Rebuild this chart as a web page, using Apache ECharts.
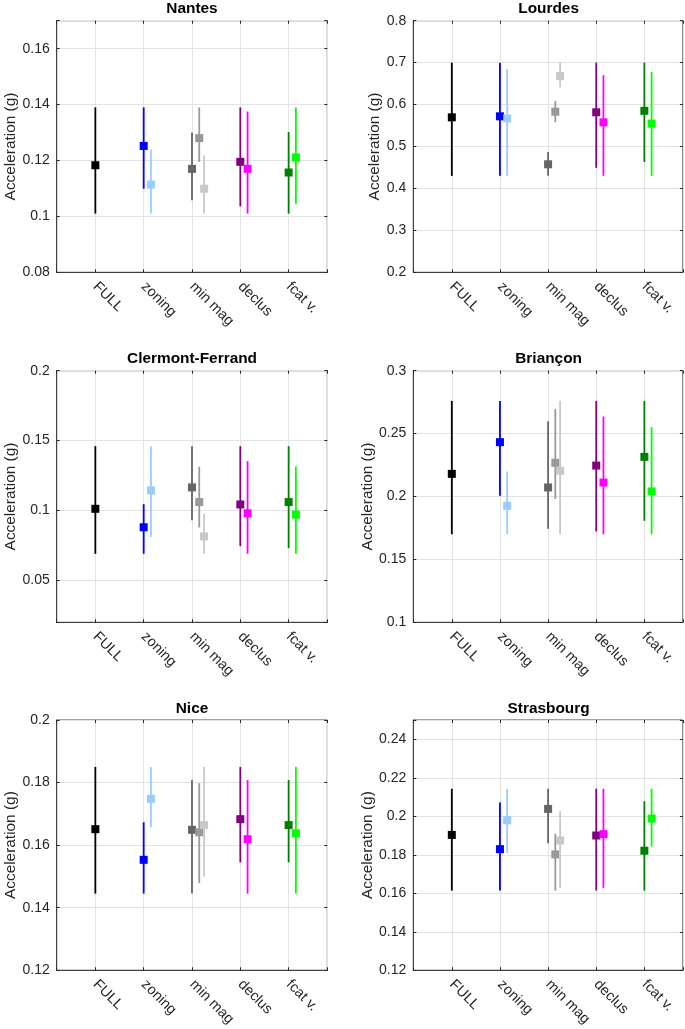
<!DOCTYPE html>
<html>
<head>
<meta charset="utf-8">
<script src="https://cdn.jsdelivr.net/npm/echarts@6/dist/echarts.min.js"></script>
<style>
html,body{margin:0;padding:0;background:#fff;}
#c{width:685px;height:1029px;}
</style>
</head>
<body>
<div id="c"></div>
<script>
// ---- data ----
const categories = ['FULL', 'zoning', 'min mag', 'declus', 'fcat v.'];
// variant order: FULL, zoning, zoning alt, min mag 1, min mag 2, min mag 3, declus, declus alt, fcat, fcat alt
const variantCategory = [1, 2, 2, 3, 3, 3, 4, 4, 5, 5];

const cities = ['Nantes', 'Lourdes', 'Clermont-Ferrand', 'Briançon', 'Nice', 'Strasbourg'];

const nantesVal = [0.1183, 0.1252, 0.1114, 0.1170, 0.1280, 0.1099, 0.1195, 0.1170, 0.1157, 0.1211];
const nantesLo  = [0.1010, 0.1099, 0.1010, 0.1058, 0.1195, 0.1010, 0.1036, 0.1010, 0.1010, 0.1045];
const nantesHi  = [0.1390, 0.1390, 0.1239, 0.1300, 0.1390, 0.1218, 0.1390, 0.1375, 0.1302, 0.1390];

const lourdesVal = [0.5696, 0.5720, 0.5670, 0.4576, 0.5830, 0.6680, 0.5816, 0.5577, 0.5850, 0.5545];
const lourdesLo  = [0.4300, 0.4300, 0.4300, 0.4300, 0.5580, 0.6410, 0.4490, 0.4300, 0.4630, 0.4300];
const lourdesHi  = [0.7000, 0.7000, 0.6840, 0.4870, 0.6086, 0.7000, 0.7000, 0.6700, 0.7000, 0.6780];

const clermontVal = [0.1012, 0.0880, 0.1143, 0.1165, 0.1060, 0.0814, 0.1043, 0.0980, 0.1060, 0.0971];
const clermontLo  = [0.0690, 0.0690, 0.0810, 0.0930, 0.0878, 0.0690, 0.0745, 0.0690, 0.0730, 0.0690];
const clermontHi  = [0.1460, 0.1045, 0.1460, 0.1460, 0.1313, 0.0976, 0.1460, 0.1353, 0.1460, 0.1315];

const brianconVal = [0.2180, 0.2432, 0.1926, 0.2072, 0.2268, 0.2204, 0.2246, 0.2111, 0.2315, 0.2040];
const brianconLo  = [0.1700, 0.2005, 0.1700, 0.1743, 0.1980, 0.1700, 0.1722, 0.1700, 0.1807, 0.1700];
const brianconHi  = [0.2760, 0.2760, 0.2199, 0.2599, 0.2694, 0.2760, 0.2760, 0.2636, 0.2760, 0.2551];

const niceVal = [0.1651, 0.1553, 0.1748, 0.1649, 0.1641, 0.1664, 0.1683, 0.1619, 0.1664, 0.1638];
const niceLo  = [0.1445, 0.1445, 0.1657, 0.1445, 0.1479, 0.1500, 0.1545, 0.1445, 0.1545, 0.1445];
const niceHi  = [0.1850, 0.1673, 0.1850, 0.1808, 0.1798, 0.1850, 0.1850, 0.1808, 0.1808, 0.1850];

const strasVal = [0.1903, 0.1829, 0.1979, 0.2038, 0.1802, 0.1874, 0.1900, 0.1907, 0.1821, 0.1988];
const strasLo  = [0.1614, 0.1614, 0.1810, 0.1860, 0.1614, 0.1628, 0.1614, 0.1628, 0.1614, 0.1843];
const strasHi  = [0.2143, 0.2071, 0.2143, 0.2143, 0.1909, 0.2026, 0.2143, 0.2143, 0.2078, 0.2143];

// y axis ranges and tick steps per panel
const yMin  = [0.08, 0.2, 0.02, 0.1, 0.12, 0.12];
const yMax  = [0.17, 0.8, 0.2, 0.3, 0.2, 0.25];
const yStep = [0.02, 0.1, 0.05, 0.05, 0.02, 0.02];

// ---- styles / layout ----
const panelData = [
  [nantesVal, nantesLo, nantesHi],
  [lourdesVal, lourdesLo, lourdesHi],
  [clermontVal, clermontLo, clermontHi],
  [brianconVal, brianconLo, brianconHi],
  [niceVal, niceLo, niceHi],
  [strasVal, strasLo, strasHi]
];
const variantColors = ['#000000', '#0000ff', '#99ccff', '#666666', '#999999', '#c8c8c8', '#800080', '#ff00ff', '#008000', '#00ff00'];
const variantOffset = [0, 0, 0.15, 0, 0.15, 0.25, 0, 0.15, 0, 0.15];

const FONT = '"Liberation Sans", Arial, Helvetica, sans-serif';
const TXT = '#262626';
const EDGE = '#404040';
const GRIDC = '#e3e3e3';

const colLeft = [56.7, 413.3];
const rowTop = [20.7, 370.7, 720];
const plotW = 270.6, plotH = 251.6;
const nameGaps = [37, 31, 34, 37, 38, 37];

const grids = [], xAxes = [], yAxes = [], series = [], graphics = [];

function fmtY(step) {
  return function (v) {
    const k = v / step;
    if (Math.abs(k - Math.round(k)) > 1e-6) return '';
    return String(parseFloat(v.toFixed(4)));
  };
}

for (let p = 0; p < 6; p++) {
  const col = p % 2, row = Math.floor(p / 2);
  const left = colLeft[col], top = rowTop[row];
  grids.push({
    left: left, top: top, width: plotW, height: plotH,
    show: true, borderColor: EDGE, borderWidth: 1, backgroundColor: '#fff'
  });
  // bottom x axis (labels, grid lines)
  xAxes.push({
    type: 'value', gridIndex: p, position: 'bottom', min: 0.2, max: 5.8,
    minInterval: 1, maxInterval: 1, splitNumber: 5,
    axisLine: { show: true, lineStyle: { color: EDGE, width: 1 } },
    axisTick: { show: true, inside: true, length: 3, lineStyle: { color: TXT } },
    splitLine: { show: true, lineStyle: { color: GRIDC, width: 1 } },
    axisLabel: {
      show: true, rotate: -45, margin: 12, color: TXT, fontSize: 14.5, fontFamily: FONT,
      formatter: function (v) {
        const i = Math.round(v);
        return (Math.abs(v - i) < 1e-6 && i >= 1 && i <= categories.length) ? categories[i - 1] : '';
      }
    }
  });
  // top x axis (ticks only)
  xAxes.push({
    type: 'value', gridIndex: p, position: 'top', min: 0.2, max: 5.8,
    minInterval: 1, maxInterval: 1, splitNumber: 5,
    axisLine: { show: false },
    axisTick: { show: true, inside: true, length: 3, lineStyle: { color: TXT } },
    splitLine: { show: false }, axisLabel: { show: false }
  });
  // left y axis
  yAxes.push({
    type: 'value', gridIndex: p, position: 'left', min: yMin[p], max: yMax[p],
    minInterval: yStep[p], maxInterval: yStep[p],
    splitNumber: Math.round((yMax[p] - yMin[p]) / yStep[p]),
    name: 'Acceleration (g)', nameLocation: 'middle', nameGap: nameGaps[p],
    nameTextStyle: { color: TXT, fontSize: 15.4, fontFamily: FONT },
    axisLine: { show: true, lineStyle: { color: EDGE, width: 1 } },
    axisTick: { show: true, inside: true, length: 3, lineStyle: { color: TXT } },
    splitLine: { show: true, lineStyle: { color: GRIDC, width: 1 } },
    axisLabel: { show: true, margin: 7, color: TXT, fontSize: 14, fontFamily: FONT, formatter: fmtY(yStep[p]) }
  });
  // right y axis (ticks only)
  yAxes.push({
    type: 'value', gridIndex: p, position: 'right', min: yMin[p], max: yMax[p],
    minInterval: yStep[p], maxInterval: yStep[p],
    splitNumber: Math.round((yMax[p] - yMin[p]) / yStep[p]),
    axisLine: { show: false },
    axisTick: { show: true, inside: true, length: 3, lineStyle: { color: TXT } },
    splitLine: { show: false }, axisLabel: { show: false }
  });

  const [vals, los, his] = panelData[p];
  const data = vals.map((v, k) => [variantCategory[k] + variantOffset[k], v, los[k], his[k], k]);
  series.push({
    type: 'custom', xAxisIndex: 2 * p, yAxisIndex: 2 * p,
    encode: { x: 0, y: [1, 2, 3] },
    data: data, silent: true, clip: false,
    renderItem: function (params, api) {
      const x = api.value(0), v = api.value(1), lo = api.value(2), hi = api.value(3);
      const color = variantColors[api.value(4)];
      const pt = api.coord([x, hi]), pb = api.coord([x, lo]), pv = api.coord([x, v]);
      const s = 8;
      return {
        type: 'group',
        children: [
          { type: 'line', shape: { x1: pt[0], y1: pt[1], x2: pb[0], y2: pb[1] }, style: { stroke: color, lineWidth: 1.8 } },
          { type: 'rect', shape: { x: pv[0] - s / 2, y: pv[1] - s / 2, width: s, height: s }, style: { fill: color, stroke: null } }
        ]
      };
    }
  });

  graphics.push({
    type: 'text', x: left + plotW / 2, y: top - 11.5,
    style: { text: cities[p], x: 0, y: 0, align: 'center', verticalAlign: 'middle',
      font: 'bold 15.4px ' + FONT, fill: '#000' }
  });
}

const chart = echarts.init(document.getElementById('c'), null, { renderer: 'canvas' });
chart.setOption({
  animation: false,
  backgroundColor: '#fff',
  grid: grids, xAxis: xAxes, yAxis: yAxes, series: series,
  graphic: graphics
});
</script>
</body>
</html>
